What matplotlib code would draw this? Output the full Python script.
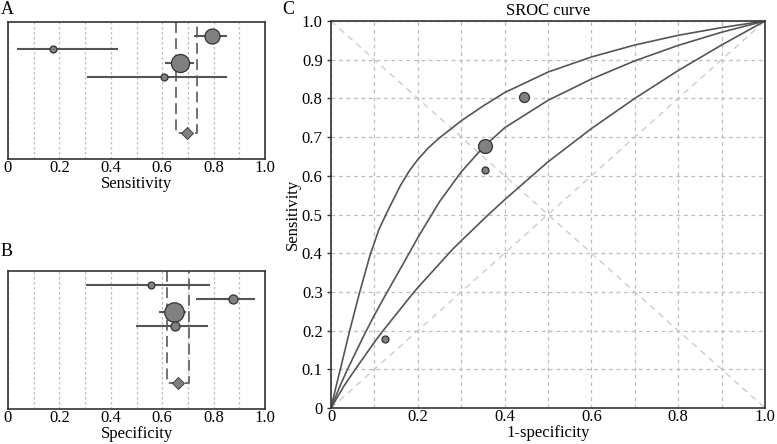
import numpy as np
import matplotlib.pyplot as plt

plt.rcParams['font.family'] = ['Liberation Serif', 'DejaVu Serif']

# -----------------------------
# Forest plot data (per study)
# -----------------------------
sens_est = [0.792, 0.175, 0.670, 0.608]
sens_lo = [0.727, 0.039, 0.613, 0.312]
sens_hi = [0.848, 0.425, 0.721, 0.848]
sens_size = [10.8, 5.0, 13.0, 5.0]
sens_pool = 0.697
sens_pool_lo = 0.652
sens_pool_hi = 0.736

spec_est = [0.556, 0.874, 0.644, 0.649]
spec_lo = [0.308, 0.734, 0.591, 0.500]
spec_hi = [0.782, 0.957, 0.688, 0.773]
spec_size = [5.0, 6.5, 14.0, 6.5]
spec_pool = 0.661
spec_pool_lo = 0.617
spec_pool_hi = 0.704

rows = [9, 8, 7, 6]
pool_row = 1.9

# -----------------------------
# SROC data
# -----------------------------
study_fpr = [0.445, 0.355, 0.355, 0.125]
study_tpr = [0.803, 0.676, 0.615, 0.178]
study_size = [7.2, 10.0, 5.0, 5.0]

upper_x = [0, 0.01, 0.0215, 0.042, 0.065, 0.09, 0.11, 0.13, 0.16, 0.18, 0.20, 0.225, 0.25, 0.30, 0.35, 0.40, 0.50, 0.60, 0.70, 0.80, 0.90, 1.0]
upper_y = [0, 0.048, 0.10, 0.195, 0.295, 0.395, 0.46, 0.508, 0.575, 0.612, 0.642, 0.673, 0.698, 0.742, 0.78, 0.815, 0.868, 0.907, 0.938, 0.963, 0.983, 1.0]

mid_x = [0, 0.02, 0.038, 0.077, 0.10, 0.127, 0.165, 0.20, 0.216, 0.25, 0.30, 0.351, 0.40, 0.50, 0.60, 0.70, 0.80, 0.90, 1.0]
mid_y = [0, 0.055, 0.10, 0.19, 0.24, 0.295, 0.37, 0.44, 0.47, 0.533, 0.61, 0.674, 0.724, 0.795, 0.85, 0.897, 0.937, 0.971, 1.0]

low_x = [0, 0.03, 0.056, 0.10, 0.118, 0.19, 0.20, 0.28, 0.30, 0.363, 0.40, 0.50, 0.60, 0.70, 0.80, 0.90, 1.0]
low_y = [0, 0.057, 0.10, 0.17, 0.197, 0.298, 0.311, 0.41, 0.432, 0.50, 0.538, 0.636, 0.722, 0.80, 0.872, 0.938, 1.0]

line_col = '#555555'
face_col = '#808080'
edge_col = '#333333'
grid_col = '#bdbdbd'

fig = plt.figure(figsize=(7.77, 4.44), dpi=100)


def forest(ax, est, lo, hi, sizes, pool, plo, phi, xlabel):
    for x, l, h, s, r in zip(est, lo, hi, sizes, rows):
        ax.plot([l, h], [r, r], color=line_col, lw=1.5, zorder=2)
        ax.plot(x, r, 'o', ms=s, mfc=face_col, mec=edge_col, mew=0.9, zorder=3)
    # pooled CI bracket
    ax.plot([plo, plo, phi, phi], [10, pool_row, pool_row, 10], color='#666666',
            lw=1.3, ls=(0, (6, 3)), zorder=1)
    ax.plot(pool, pool_row, 'D', ms=6, mfc=face_col, mec=edge_col, mew=0.6, zorder=3)
    ax.set_xlim(0, 1)
    ax.set_ylim(0, 10)
    ax.set_yticks([])
    ax.set_xticks(np.arange(0.1, 1.0, 0.1), minor=True)
    ax.set_xticks([0, 0.2, 0.4, 0.6, 0.8, 1.0])
    ax.set_xticklabels(['0', '0.2', '0.4', '0.6', '0.8', '1.0'])
    ax.tick_params(axis='x', which='both', length=0, pad=1, labelsize=12)
    ax.grid(True, axis='x', which='both', color=grid_col, ls=(0, (2, 2)), lw=0.9)
    ax.set_axisbelow(True)
    ax.set_xlabel(xlabel, fontsize=12, labelpad=0)
    for sp in ax.spines.values():
        sp.set_color('#333333')
        sp.set_linewidth(1.2)


ax_a = fig.add_axes([8 / 777, 1 - 159 / 444, 257 / 777, 137 / 444])
forest(ax_a, sens_est, sens_lo, sens_hi, sens_size, sens_pool, sens_pool_lo, sens_pool_hi, 'Sensitivity')
fig.text(1 / 777, 1 - 10 / 444, 'A', fontsize=13, va='center', ha='left')

ax_b = fig.add_axes([8 / 777, 1 - 409 / 444, 257 / 777, 138 / 444])
forest(ax_b, spec_est, spec_lo, spec_hi, spec_size, spec_pool, spec_pool_lo, spec_pool_hi, 'Specificity')
fig.text(1 / 777, 1 - 251 / 444, 'B', fontsize=13, va='center', ha='left')

# ============================================================================
# Panel C: SROC curve
# ============================================================================
ax_c = fig.add_axes([331 / 777, 1 - 408 / 444, 434 / 777, 387 / 444])
ax_c.plot([0, 1], [0, 1], color='#c8c8c8', ls=(0, (5, 4)), lw=0.9, zorder=1)
ax_c.plot([0, 1], [1, 0], color='#c8c8c8', ls=(0, (5, 4)), lw=0.9, zorder=1)
for cx, cy in [(upper_x, upper_y), (mid_x, mid_y), (low_x, low_y)]:
    ax_c.plot(cx, cy, color=line_col, lw=1.2, zorder=2, solid_joinstyle='round')
for x, y, s in zip(study_fpr, study_tpr, study_size):
    ax_c.plot(x, y, 'o', ms=s, mfc=face_col, mec=edge_col, mew=0.9, zorder=3)
ax_c.set_xlim(0, 1)
ax_c.set_ylim(0, 1)
ax_c.set_xticks(np.arange(0.1, 1.0, 0.1), minor=True)
ax_c.set_xticks([0, 0.2, 0.4, 0.6, 0.8, 1.0])
ax_c.set_xticklabels(['0', '0.2', '0.4', '0.6', '0.8', '1.0'])
ax_c.set_yticks(np.round(np.arange(0, 1.01, 0.1), 1))
ax_c.set_yticklabels(['0'] + ['%.1f' % v for v in np.arange(0.1, 1.01, 0.1)])
ax_c.tick_params(axis='x', which='both', length=0, pad=1, labelsize=12)
ax_c.tick_params(axis='y', length=3, width=1, pad=3, labelsize=12, color='#333333')
ax_c.grid(True, which='both', color=grid_col, ls=(0, (3, 3)), lw=0.9)
ax_c.set_axisbelow(True)
ax_c.set_xlabel('1-specificity', fontsize=12, labelpad=0)
ax_c.set_ylabel('Sensitivity', fontsize=12, labelpad=1)
ax_c.set_title('SROC curve', fontsize=12, pad=4)
for sp in ax_c.spines.values():
    sp.set_color('#333333')
    sp.set_linewidth(1.2)
fig.text(282 / 777, 1 - 10 / 444, 'C', fontsize=13, va='center', ha='left')

fig.savefig('out.png', dpi=100)
